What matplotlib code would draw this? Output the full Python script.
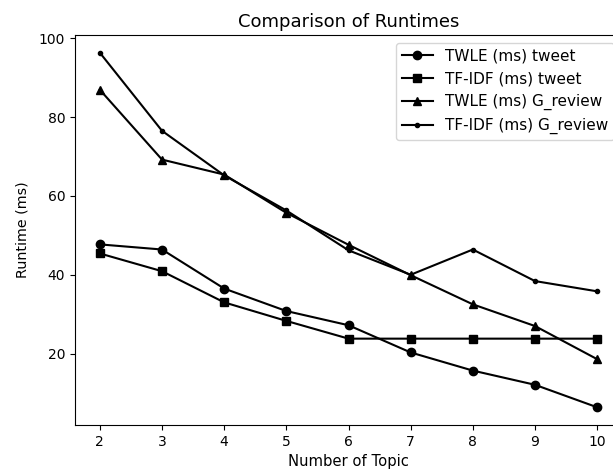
import matplotlib
matplotlib.use("Agg")
import matplotlib.pyplot as plt

topics = [2, 3, 4, 5, 6, 7, 8, 9, 10]
twle_tweet = [47.7, 46.4, 36.5, 30.8, 27.2, 20.3, 15.7, 12.1, 6.4]
tfidf_tweet = [45.4, 40.9, 33.0, 28.3, 23.8, 23.8, 23.8, 23.8, 23.8]
twle_greview = [86.9, 69.2, 65.4, 55.7, 47.6, 39.9, 32.5, 27.0, 18.6]
tfidf_greview = [96.3, 76.5, 65.2, 56.3, 46.2, 40.0, 46.4, 38.4, 35.8]

labels = ["TWLE (ms) tweet", "TF-IDF (ms) tweet", "TWLE (ms) G_review", "TF-IDF (ms) G_review"]

W, H = 613, 470
fig = plt.figure(figsize=(W / 100, H / 100), dpi=100)
ax = fig.add_axes([75 / W, 45 / H, (622 - 75) / W, (425 - 35) / H])

ax.plot(topics, twle_tweet, color="black", marker="o", label=labels[0])
ax.plot(topics, tfidf_tweet, color="black", marker="s", label=labels[1])
ax.plot(topics, twle_greview, color="black", marker="^", label=labels[2])
ax.plot(topics, tfidf_greview, color="black", marker=".", label=labels[3])

ax.set_title("Comparison of Runtimes", fontsize=13)
ax.set_xlabel("Number of Topic", fontsize=10.6)
ax.set_ylabel("Runtime (ms)", fontsize=10.3, labelpad=7)
ax.legend(loc="upper right", fontsize=11)

fig.savefig("out.png", dpi=100)
